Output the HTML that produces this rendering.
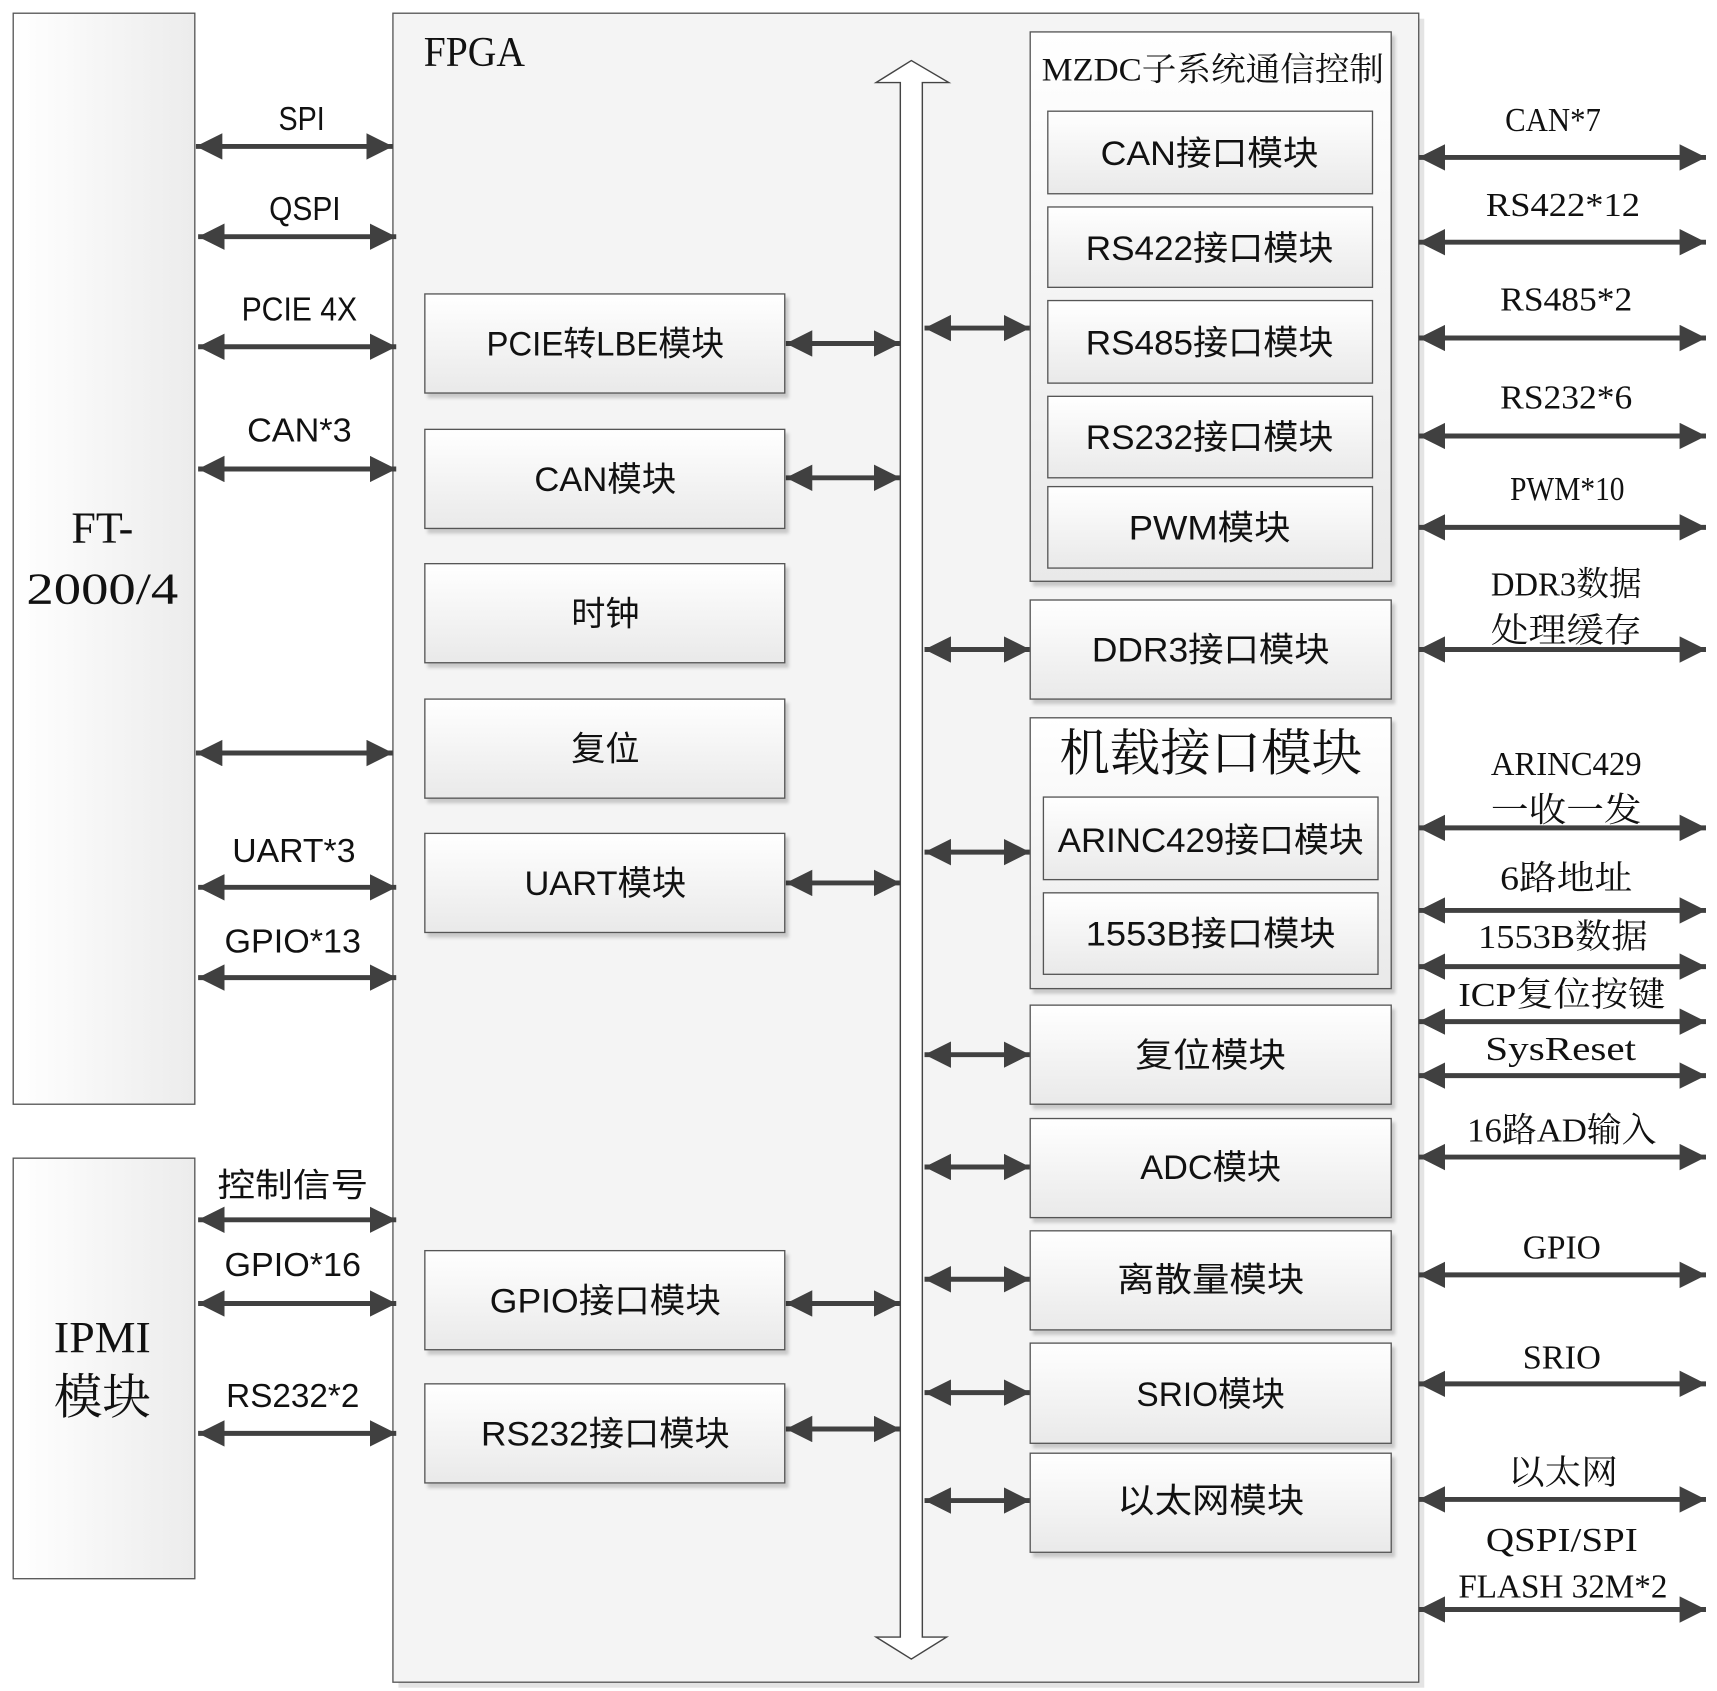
<!DOCTYPE html>
<html><head><meta charset="utf-8"><style>html,body{margin:0;padding:0;background:#fff}svg{display:block}
.s{font-family:"Liberation Sans","Noto Sans CJK SC",sans-serif;fill:#111}
.r{font-family:"Liberation Serif","Noto Serif CJK SC",serif;fill:#111}
</style></head><body>
<svg width="1717" height="1691" viewBox="0 0 1560 1536" preserveAspectRatio="none" xmlns="http://www.w3.org/2000/svg">
<defs>
<linearGradient id="g" x1="0" y1="0" x2="0" y2="1"><stop offset="0" stop-color="#ffffff"/><stop offset="1" stop-color="#e9e9e9"/></linearGradient>
<linearGradient id="gh" x1="0" y1="0" x2="1" y2="0"><stop offset="0" stop-color="#ffffff"/><stop offset="1" stop-color="#ececec"/></linearGradient>
<marker id="a" markerUnits="userSpaceOnUse" markerWidth="26" markerHeight="26" refX="24" refY="12" orient="auto-start-reverse" viewBox="0 0 26 26"><path d="M0,0 L24,12 L0,24 z" fill="#404040"/></marker>
<filter id="sh" x="-5%" y="-5%" width="115%" height="130%"><feDropShadow dx="3" dy="4" stdDeviation="1.5" flood-color="#000" flood-opacity="0.18"/></filter>
</defs>
<rect x="12" y="12" width="165" height="991" fill="url(#gh)" stroke="#555" stroke-width="1.2"/>
<rect x="12" y="1052" width="165" height="382" fill="url(#gh)" stroke="#555" stroke-width="1.2"/>
<rect x="362" y="17" width="932" height="1516" fill="#e4e4e4"/>
<rect x="357" y="12" width="932" height="1516" fill="#f4f4f4" stroke="#555" stroke-width="1.2"/>
<text class="r" x="93" y="493" font-size="40" text-anchor="middle">FT-</text>
<text class="r" x="93" y="548" font-size="40" text-anchor="middle" textLength="138" lengthAdjust="spacingAndGlyphs">2000/4</text>
<text class="r" x="93" y="1228" font-size="40" text-anchor="middle" textLength="88" lengthAdjust="spacingAndGlyphs">IPMI</text>
<text class="r" x="93" y="1284" font-size="44" text-anchor="middle">模块</text>
<text class="r" x="385" y="60" font-size="38" textLength="92" lengthAdjust="spacingAndGlyphs">FPGA</text>
<path d="M818,75 L796,75 L828,55 L862,75 L838,75 L838,1487 L860,1487 L828,1507 L796,1487 L818,1487 z" fill="#fff" stroke="#444" stroke-width="1.3"/>
<g stroke="#404040" stroke-width="4.5" marker-start="url(#a)" marker-end="url(#a)">
<line x1="178" y1="133" x2="357" y2="133"/><line x1="180" y1="215" x2="360" y2="215"/>
<line x1="180" y1="315" x2="360" y2="315"/><line x1="180" y1="426" x2="360" y2="426"/>
<line x1="178" y1="684" x2="357" y2="684"/><line x1="180" y1="806" x2="360" y2="806"/>
<line x1="180" y1="888" x2="360" y2="888"/><line x1="180" y1="1108" x2="360" y2="1108"/>
<line x1="180" y1="1184" x2="360" y2="1184"/><line x1="180" y1="1302" x2="360" y2="1302"/>
<line x1="714" y1="312" x2="818" y2="312"/><line x1="714" y1="434" x2="818" y2="434"/>
<line x1="714" y1="802" x2="818" y2="802"/><line x1="714" y1="1184" x2="818" y2="1184"/>
<line x1="714" y1="1298" x2="818" y2="1298"/>
<line x1="840" y1="298" x2="936" y2="298"/><line x1="840" y1="590" x2="936" y2="590"/>
<line x1="840" y1="774" x2="936" y2="774"/><line x1="840" y1="958" x2="936" y2="958"/>
<line x1="840" y1="1060" x2="936" y2="1060"/><line x1="840" y1="1162" x2="936" y2="1162"/>
<line x1="840" y1="1265" x2="936" y2="1265"/><line x1="840" y1="1363" x2="936" y2="1363"/>
<line x1="1289" y1="143" x2="1550" y2="143"/><line x1="1289" y1="220" x2="1550" y2="220"/>
<line x1="1289" y1="307" x2="1550" y2="307"/><line x1="1289" y1="396" x2="1550" y2="396"/>
<line x1="1289" y1="479" x2="1550" y2="479"/><line x1="1289" y1="590" x2="1550" y2="590"/>
<line x1="1289" y1="752" x2="1550" y2="752"/><line x1="1289" y1="827" x2="1550" y2="827"/>
<line x1="1289" y1="878" x2="1550" y2="878"/><line x1="1289" y1="928" x2="1550" y2="928"/>
<line x1="1289" y1="977" x2="1550" y2="977"/><line x1="1289" y1="1051" x2="1550" y2="1051"/>
<line x1="1289" y1="1158" x2="1550" y2="1158"/><line x1="1289" y1="1257" x2="1550" y2="1257"/>
<line x1="1289" y1="1362" x2="1550" y2="1362"/><line x1="1289" y1="1462" x2="1550" y2="1462"/>
</g>
<g class="s" font-size="30" text-anchor="middle">
<text x="274" y="118" textLength="42" lengthAdjust="spacingAndGlyphs">SPI</text>
<text x="277" y="200" textLength="65" lengthAdjust="spacingAndGlyphs">QSPI</text>
<text x="272" y="291" textLength="105" lengthAdjust="spacingAndGlyphs">PCIE 4X</text>
<text x="272" y="401" textLength="95" lengthAdjust="spacingAndGlyphs">CAN*3</text>
<text x="267" y="783" textLength="112" lengthAdjust="spacingAndGlyphs">UART*3</text>
<text x="266" y="865" textLength="124" lengthAdjust="spacingAndGlyphs">GPIO*13</text>
<text x="266" y="1087" textLength="137" lengthAdjust="spacingAndGlyphs">控制信号</text>
<text x="266" y="1159" textLength="124" lengthAdjust="spacingAndGlyphs">GPIO*16</text>
<text x="266" y="1278" textLength="121" lengthAdjust="spacingAndGlyphs">RS232*2</text>
</g>
<g fill="url(#g)" stroke="#555" stroke-width="1.2" filter="url(#sh)">
<rect x="386" y="267" width="327" height="90"/><rect x="386" y="390" width="327" height="90"/>
<rect x="386" y="512" width="327" height="90"/><rect x="386" y="635" width="327" height="90"/>
<rect x="386" y="757" width="327" height="90"/><rect x="386" y="1136" width="327" height="90"/>
<rect x="386" y="1257" width="327" height="90"/>
<rect x="936" y="29" width="328" height="499"/>
<rect x="936" y="545" width="328" height="90"/>
<rect x="936" y="652" width="328" height="246"/>
<rect x="936" y="913" width="328" height="90"/><rect x="936" y="1016" width="328" height="90"/>
<rect x="936" y="1118" width="328" height="90"/><rect x="936" y="1220" width="328" height="91"/>
<rect x="936" y="1320" width="328" height="90"/>
<rect x="952" y="101" width="295" height="75"/><rect x="952" y="188" width="295" height="73"/>
<rect x="952" y="273" width="295" height="75"/><rect x="952" y="360" width="295" height="74"/>
<rect x="952" y="442" width="295" height="74"/>
<rect x="948" y="724" width="304" height="75"/><rect x="948" y="811" width="304" height="74"/>
</g>
<g class="s" font-size="31" text-anchor="middle">
<text x="550" y="323" textLength="216" lengthAdjust="spacingAndGlyphs">PCIE转LBE模块</text>
<text x="550" y="446" textLength="129" lengthAdjust="spacingAndGlyphs">CAN模块</text>
<text x="550" y="568">时钟</text>
<text x="550" y="691">复位</text>
<text x="550" y="813" textLength="147" lengthAdjust="spacingAndGlyphs">UART模块</text>
<text x="550" y="1192" textLength="210" lengthAdjust="spacingAndGlyphs">GPIO接口模块</text>
<text x="550" y="1313" textLength="226" lengthAdjust="spacingAndGlyphs">RS232接口模块</text>
<text x="1099" y="150" textLength="198" lengthAdjust="spacingAndGlyphs">CAN接口模块</text>
<text x="1099" y="236" textLength="225" lengthAdjust="spacingAndGlyphs">RS422接口模块</text>
<text x="1099" y="322" textLength="225" lengthAdjust="spacingAndGlyphs">RS485接口模块</text>
<text x="1099" y="408" textLength="225" lengthAdjust="spacingAndGlyphs">RS232接口模块</text>
<text x="1099" y="490" textLength="147" lengthAdjust="spacingAndGlyphs">PWM模块</text>
<text x="1100" y="601" textLength="216" lengthAdjust="spacingAndGlyphs">DDR3接口模块</text>
<text x="1100" y="774" textLength="278" lengthAdjust="spacingAndGlyphs">ARINC429接口模块</text>
<text x="1100" y="859" textLength="227" lengthAdjust="spacingAndGlyphs">1553B接口模块</text>
<text x="1100" y="969" textLength="137" lengthAdjust="spacingAndGlyphs">复位模块</text>
<text x="1100" y="1071" textLength="128" lengthAdjust="spacingAndGlyphs">ADC模块</text>
<text x="1100" y="1173" textLength="170" lengthAdjust="spacingAndGlyphs">离散量模块</text>
<text x="1100" y="1277" textLength="135" lengthAdjust="spacingAndGlyphs">SRIO模块</text>
<text x="1100" y="1374" textLength="170" lengthAdjust="spacingAndGlyphs">以太网模块</text>
</g>
<text class="r" x="1102" y="73" font-size="30" text-anchor="middle" textLength="311" lengthAdjust="spacingAndGlyphs">MZDC子系统通信控制</text>
<text class="r" x="1100" y="700" font-size="46" text-anchor="middle" textLength="275" lengthAdjust="spacingAndGlyphs">机载接口模块</text>
<g class="r" font-size="31" text-anchor="middle">
<text x="1411" y="119" textLength="87" lengthAdjust="spacingAndGlyphs">CAN*7</text>
<text x="1420" y="196" textLength="140" lengthAdjust="spacingAndGlyphs">RS422*12</text>
<text x="1423" y="282" textLength="120" lengthAdjust="spacingAndGlyphs">RS485*2</text>
<text x="1423" y="371" textLength="120" lengthAdjust="spacingAndGlyphs">RS232*6</text>
<text x="1424" y="454" textLength="104" lengthAdjust="spacingAndGlyphs">PWM*10</text>
<text x="1423" y="541" textLength="137" lengthAdjust="spacingAndGlyphs">DDR3数据</text>
<text x="1423" y="583" textLength="137" lengthAdjust="spacingAndGlyphs">处理缓存</text>
<text x="1423" y="704" textLength="137" lengthAdjust="spacingAndGlyphs">ARINC429</text>
<text x="1423" y="746" textLength="137" lengthAdjust="spacingAndGlyphs">一收一发</text>
<text x="1423" y="808" textLength="120" lengthAdjust="spacingAndGlyphs">6路地址</text>
<text x="1420" y="861" textLength="154" lengthAdjust="spacingAndGlyphs">1553B数据</text>
<text x="1419" y="914" textLength="188" lengthAdjust="spacingAndGlyphs">ICP复位按键</text>
<text x="1418" y="963" textLength="137" lengthAdjust="spacingAndGlyphs">SysReset</text>
<text x="1419" y="1037" textLength="172" lengthAdjust="spacingAndGlyphs">16路AD输入</text>
<text x="1419" y="1143" textLength="71" lengthAdjust="spacingAndGlyphs">GPIO</text>
<text x="1419" y="1243" textLength="71" lengthAdjust="spacingAndGlyphs">SRIO</text>
<text x="1420" y="1348" textLength="100" lengthAdjust="spacingAndGlyphs">以太网</text>
<text x="1419" y="1409" textLength="138" lengthAdjust="spacingAndGlyphs">QSPI/SPI</text>
<text x="1420" y="1451" textLength="190" lengthAdjust="spacingAndGlyphs">FLASH 32M*2</text>
</g>
</svg>
</body></html>
